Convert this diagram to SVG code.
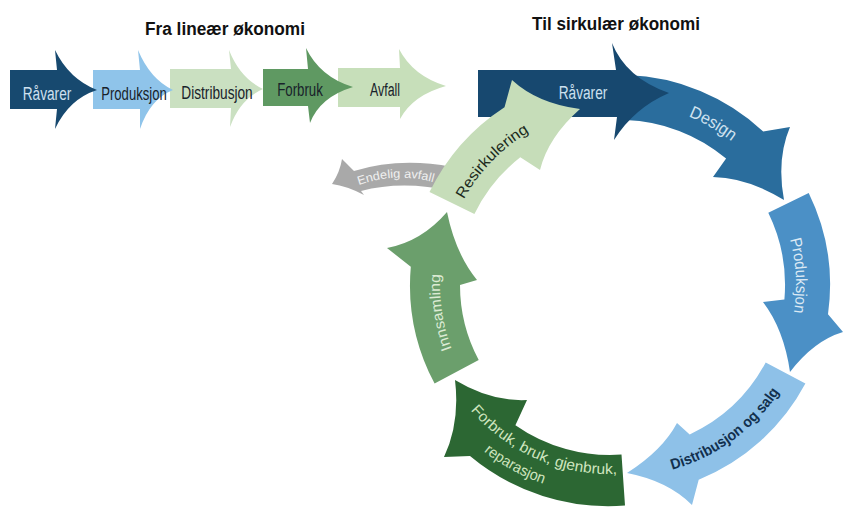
<svg xmlns="http://www.w3.org/2000/svg" width="844" height="516" viewBox="0 0 844 516">
<style>
text{font-family:"Liberation Sans",Arial,sans-serif;}
.t{font-size:18px;font-weight:bold;fill:#111;}
.lin{font-size:19px;}
.c{font-size:16px;}
.dk{fill:#18222a;}
</style>
<defs>
<path id="pDesign" d="M651.6,105.8 A182,182 0 0 1 759.4,168"/>
<path id="pProd" d="M779.5,210.6 A176,176 0 0 1 786.4,342.3"/>
<path id="pDist" d="M640.1,475.9 A192,192 0 0 0 795.4,363.1"/>
<path id="pF1" d="M455.7,390.2 A183,183 0 0 0 641.9,471.2"/>
<path id="pF2" d="M432.5,392.5 A205,205 0 0 0 620.7,494.7"/>
<path id="pInn" d="M462.1,371.4 A180,180 0 0 1 443.5,249.7"/>
<path id="pRes" d="M451.7,227 A178,178 0 0 1 556.2,118.8"/>
<path id="pEnd" d="M356,186 Q396,171 436,183"/>
</defs>
<rect width="844" height="516" fill="#ffffff"/>

<text class="t" x="145" y="35" textLength="160" lengthAdjust="spacingAndGlyphs">Fra lineær økonomi</text>
<text class="t" x="532" y="30" textLength="168" lengthAdjust="spacingAndGlyphs">Til sirkulær økonomi</text>

<!-- linear economy -->
<g id="lin-avfall">
<path d="M338,68 H400 L399,49 Q413,76 446,86 Q413,95 400,119 L400,107 H338 Z" fill="#c7dfba"/>
<text class="lin dk" transform="translate(385,96) scale(0.65,1)" text-anchor="middle">Avfall</text>
</g>
<g id="lin-forbruk">
<path d="M263,69 H308 L306,48 Q320,77 353,87 Q320,97 310,123 L308,106 H263 Z" fill="#5f9962"/>
<text class="lin dk" transform="translate(300,96) scale(0.7,1)" text-anchor="middle">Forbruk</text>
</g>
<g id="lin-distribusjon">
<path d="M170,69 H231 L229,50 Q240,78 263,89 Q240,99 230,127 L231,108 H170 Z" fill="#cae0c1"/>
<text class="lin dk" transform="translate(217,99) scale(0.72,1)" text-anchor="middle">Distribusjon</text>
</g>
<g id="lin-produksjon">
<path d="M93,70 H140 L138,50 Q150,79 173,90 Q150,99 140,129 L140,109 H93 Z" fill="#8fc4ea"/>
<text class="lin dk" transform="translate(134,100) scale(0.69,1)" text-anchor="middle">Produksjon</text>
</g>
<g id="lin-ravarer">
<path d="M10,70 H57 L55,50 Q69,79 97,90 Q69,99 55,129 L57,109 H10 Z" fill="#17496f"/>
<text class="lin" fill="#cfe0ef" transform="translate(47,100) scale(0.72,1)" text-anchor="middle">Råvarer</text>
</g>

<!-- circular economy -->
<g id="endelig-avfall">
<path d="M452,167 Q400,157 354,171 L342,159 Q340,172 332,184 Q347,186 364,195 L361,191 Q402,180 452,191 Z" fill="#a9a9a9"/>
<text font-size="12" fill="#f0f0f0" text-anchor="middle"><textPath href="#pEnd" startOffset="50%" textLength="76" lengthAdjust="spacingAndGlyphs">Endelig avfall</textPath></text>
</g>
<g id="produksjon">
<path d="M808.7,192.9 A210,210 0 0 1 828,314.2 L843,332 Q813.9,340.7 790,372 Q783.9,329.4 763,302 L784.4,299.4 A165,165 0 0 0 768.3,212.7 Z" fill="#4b90c6"/>
<text class="c" fill="#dbe9f4" text-anchor="middle"><textPath href="#pProd" startOffset="50%" textLength="74" lengthAdjust="spacingAndGlyphs">Produksjon</textPath></text>
</g>
<g id="design">
<path d="M627.3,75.1 A210,210 0 0 1 763.2,131.4 L790,127 Q776.4,158.9 784,200 Q747.5,177.6 713,177 L726.1,158.6 A165,165 0 0 0 625.8,120.1 Z" fill="#2a6d9d"/>
<text font-size="17" fill="#cfe2f0" text-anchor="middle"><textPath href="#pDesign" startOffset="50%" textLength="50" lengthAdjust="spacingAndGlyphs">Design</textPath></text>
</g>
<g id="distribusjon-og-salg">
<path d="M805.4,383.6 A210,210 0 0 1 698.7,479.7 L692,505 Q668.2,481 627,473 Q662.6,450.3 677,423 L689.7,434.5 A165,165 0 0 0 765.7,362.5 Z" fill="#8ec1e8"/>
<text font-size="15" font-weight="bold" fill="#12304e" text-anchor="middle"><textPath href="#pDist" startOffset="50%" textLength="135" lengthAdjust="spacingAndGlyphs">Distribusjon og salg</textPath></text>
</g>
<g id="forbruk">
<path d="M625,505.5 A216,216 0 0 1 470,456 L444,457 Q460.2,422.4 455,380 Q490.9,401.8 527,400 L515.4,425.2 A165,165 0 0 0 621.5,454.6 Z" fill="#2c6733"/>
<text font-size="15" fill="#cfe5bf" text-anchor="middle"><textPath href="#pF1" startOffset="50%" textLength="165" lengthAdjust="spacingAndGlyphs">Forbruk, bruk, gjenbruk,</textPath></text>
<text font-size="15" fill="#cfe5bf" text-anchor="middle"><textPath href="#pF2" startOffset="50%" textLength="68" lengthAdjust="spacingAndGlyphs">reparasjon</textPath></text>
</g>
<g id="innsamling">
<path d="M434.6,383.6 A210,210 0 0 1 410.8,266.7 L387,248 Q421.6,241.5 447,212 Q455.4,253.5 477,280 L460,285 A160,160 0 0 0 478.7,360.1 Z" fill="#6b9f6c"/>
<text font-size="15" fill="#dcebd4" text-anchor="middle"><textPath href="#pInn" startOffset="50%" textLength="76" lengthAdjust="spacingAndGlyphs">Innsamling</textPath></text>
</g>
<g id="ravarer">
<path d="M478,70 H616 L612,43 Q626,78 669,93 Q634,108 614,140 L617,117 H478 Z" fill="#17486f"/>
<text class="lin" fill="#cde0ef" transform="translate(583,99) scale(0.72,1)" text-anchor="middle">Råvarer</text>
</g>
<g id="resirkulering">
<path d="M429.5,192.1 A212,212 0 0 1 504.5,107.2 L512,80 Q537.6,103.6 580,109 Q548.1,137.3 540,170 L520.3,157.3 A162,162 0 0 0 474.4,214 Z" fill="#c6ddb9"/>
<text font-size="15" fill="#1c2a1c" text-anchor="middle"><textPath href="#pRes" startOffset="50%" textLength="95" lengthAdjust="spacingAndGlyphs">Resirkulering</textPath></text>
</g>
</svg>
